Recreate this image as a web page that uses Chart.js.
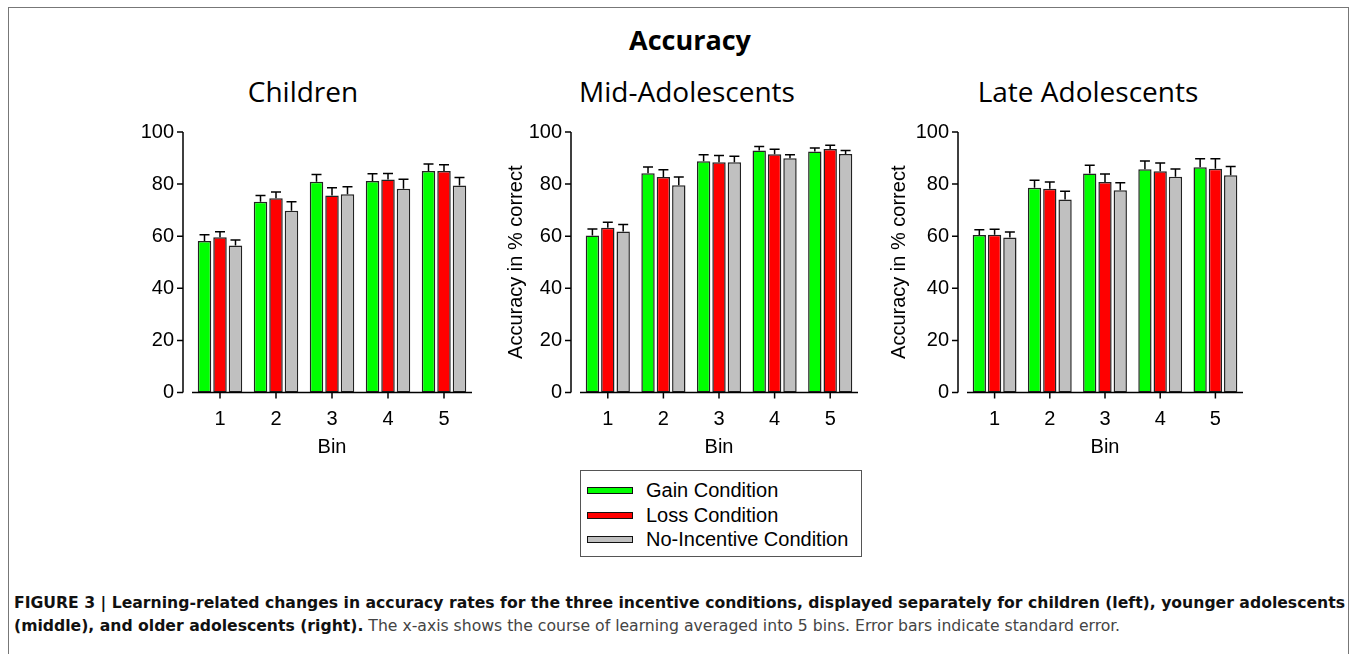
<!DOCTYPE html>
<html><head><meta charset="utf-8">
<script src="https://cdn.jsdelivr.net/npm/chart.js@4.4.1/dist/chart.umd.min.js"></script>
<style>
body{margin:0;background:#fff;width:1357px;height:654px;overflow:hidden;position:relative;font-family:"Liberation Sans",Arial,sans-serif;}
.frame{position:absolute;left:8px;top:7px;width:1339px;height:700px;border:1.5px solid #777;}
.t{position:absolute;transform:translate(-50%,-50%);white-space:nowrap;color:#000;font-family:"Open Sans","Noto Sans",sans-serif;}
canvas{position:absolute;}
.legend{position:absolute;left:580px;top:470px;width:280px;height:85px;border:1px solid #555;background:#fff;}
.li{position:absolute;left:6px;height:24px;white-space:nowrap;font-size:20px;color:#000;}
.sw{position:absolute;left:0;top:9px;width:44px;height:5px;border:1.5px solid #111;}
.lt{position:absolute;left:59px;top:0;line-height:24px;}
.cap{position:absolute;left:14px;white-space:nowrap;font-family:"Liberation Sans Narrow","DejaVu Sans Condensed","Liberation Sans",sans-serif;font-size:16px;line-height:20px;color:#444;transform-origin:0 50%;}
.cap b{color:#111;}
</style></head>
<body>
<div class="frame"></div>
<div class="t" style="left:690px;top:39px;font-size:27px;font-weight:700;">Accuracy</div>
<div class="t" style="left:303px;top:91px;font-size:28px;">Children</div>
<div class="t" style="left:687px;top:91px;font-size:28px;">Mid-Adolescents</div>
<div class="t" style="left:1088px;top:91px;font-size:28px;">Late Adolescents</div>
<canvas id="c1" width="380" height="358" style="left:100px;top:102px;"></canvas>
<canvas id="c2" width="390" height="358" style="left:480px;top:102px;"></canvas>
<canvas id="c3" width="390" height="358" style="left:860px;top:102px;"></canvas>
<div class="legend" id="legend"></div>
<div class="cap" id="cap1" style="top:593px;"><b>FIGURE 3 | Learning-related changes in accuracy rates for the three incentive conditions, displayed separately for children (left), younger adolescents</b></div>
<div class="cap" id="cap2" style="top:616px;"><b>(middle), and older adolescents (right).</b> The x-axis shows the course of learning averaged into 5 bins. Error bars indicate standard error.</div>
<script>
// ---- data ----
const bins = ['1', '2', '3', '4', '5'];
const seriesLabels = ['Gain Condition', 'Loss Condition', 'No-Incentive Condition'];
const seriesColors = ['#00ff00', '#ff0000', '#c0c0c0'];
const yTicks = [0, 20, 40, 60, 80, 100];

const childrenGain = [58.2, 73.2, 80.9, 81.2, 85.0];
const childrenLoss = [59.6, 74.6, 75.6, 81.8, 85.0];
const childrenNone = [56.4, 69.8, 76.1, 78.2, 79.5];
const childrenGainSE = [2.4, 2.4, 2.8, 2.8, 2.7];
const childrenLossSE = [2.1, 2.4, 3.0, 2.3, 2.4];
const childrenNoneSE = [2.1, 3.4, 2.9, 3.7, 3.0];

const midGain = [60.3, 84.2, 88.8, 92.9, 92.5];
const midLoss = [63.2, 82.7, 88.4, 91.5, 93.5];
const midNone = [61.8, 79.6, 88.4, 89.9, 91.6];
const midGainSE = [2.5, 2.4, 2.5, 1.5, 1.4];
const midLossSE = [2.2, 2.8, 2.6, 1.9, 1.4];
const midNoneSE = [2.7, 3.1, 2.3, 1.4, 1.3];

const lateGain = [60.5, 78.6, 84.1, 85.7, 86.5];
const lateLoss = [60.6, 78.2, 80.8, 84.9, 85.9];
const lateNone = [59.5, 74.1, 77.6, 82.8, 83.4];
const lateGainSE = [2.0, 2.9, 3.1, 3.2, 3.2];
const lateLossSE = [2.1, 2.6, 3.1, 3.2, 3.8];
const lateNoneSE = [2.1, 3.2, 2.9, 3.0, 3.4];

// ---- drawing ----
const FONT = {family: '"Liberation Sans", Arial, sans-serif', size: 20};

const axesAndErrors = {
  id: 'axesAndErrors',
  afterDatasetsDraw(chart) {
    const ctx = chart.ctx, x = chart.scales.x, y = chart.scales.y, ca = chart.chartArea;
    ctx.save();
    ctx.strokeStyle = '#000';
    ctx.lineWidth = 1.5;
    chart.data.datasets.forEach((ds, di) => {
      const meta = chart.getDatasetMeta(di);
      meta.data.forEach((bar, i) => {
        const top = y.getPixelForValue(ds.data[i] + ds.errors[i]);
        ctx.beginPath();
        ctx.moveTo(bar.x, bar.y);
        ctx.lineTo(bar.x, top);
        ctx.moveTo(bar.x - 5, top);
        ctx.lineTo(bar.x + 5, top);
        ctx.stroke();
      });
    });
    const ax = ca.left - 9;
    ctx.beginPath();
    ctx.moveTo(ax, y.getPixelForValue(yTicks[yTicks.length - 1]));
    ctx.lineTo(ax, y.getPixelForValue(0));
    yTicks.forEach(v => {
      const py = y.getPixelForValue(v);
      ctx.moveTo(ax - 6, py);
      ctx.lineTo(ax, py);
    });
    ctx.stroke();
    const y0 = y.getPixelForValue(0);
    ctx.beginPath();
    ctx.moveTo(ca.left, y0);
    ctx.lineTo(ca.right, y0);
    bins.forEach((b, i) => {
      const px = x.getPixelForValue(i);
      ctx.moveTo(px, y0);
      ctx.lineTo(px, y0 + 6);
    });
    ctx.stroke();
    ctx.restore();
  }
};

function makePanel(id, series, errs, cfg) {
  new Chart(document.getElementById(id), {
    type: 'bar',
    data: {
      labels: bins,
      datasets: series.map((s, k) => ({
        label: seriesLabels[k],
        data: s,
        errors: errs[k],
        backgroundColor: seriesColors[k],
        borderColor: '#222',
        borderWidth: 1.5,
        borderSkipped: false,
        categoryPercentage: 0.83,
        barPercentage: 0.87
      }))
    },
    options: {
      responsive: false,
      animation: false,
      events: [],
      layout: {padding: {top: 10, right: cfg.right, left: 0, bottom: 0}},
      plugins: {legend: {display: false}, tooltip: {enabled: false}},
      scales: {
        x: {
          grid: {display: false, drawTicks: false},
          border: {display: false},
          ticks: {color: '#000', font: FONT, padding: 15, maxRotation: 0},
          title: {display: true, text: 'Bin', color: '#000', font: FONT, padding: {top: 0, bottom: 1}},
          afterFit(s) { s.height = 67.5; }
        },
        y: {
          min: 0, max: 100,
          grid: {display: false, drawTicks: false},
          border: {display: false},
          ticks: {stepSize: 20, color: '#000', font: FONT, padding: 18},
          title: {display: cfg.ytitle, text: 'Accuracy in % correct', color: '#000', font: FONT,
                  padding: {top: cfg.tpad, bottom: 0}},
          afterFit(s) { s.width = cfg.yw; }
        }
      }
    },
    plugins: [axesAndErrors]
  });
}

makePanel('c1', [childrenGain, childrenLoss, childrenNone], [childrenGainSE, childrenLossSE, childrenNoneSE],
  {right: 8, yw: 92, ytitle: false, tpad: 0});
makePanel('c2', [midGain, midLoss, midNone], [midGainSE, midLossSE, midNoneSE],
  {right: 12, yw: 100, ytitle: true, tpad: 24});
makePanel('c3', [lateGain, lateLoss, lateNone], [lateGainSE, lateLossSE, lateNoneSE],
  {right: 7, yw: 107, ytitle: true, tpad: 27});

const lg = document.getElementById('legend');
seriesLabels.forEach((lab, k) => {
  const d = document.createElement('div');
  d.className = 'li';
  d.style.top = (7 + k * 24.5) + 'px';
  d.innerHTML = '<div class="sw" style="background:' + seriesColors[k] + '"></div><div class="lt"></div>';
  d.querySelector('.lt').textContent = lab;
  lg.appendChild(d);
});

const c1 = document.getElementById('cap1'), c2 = document.getElementById('cap2');
const sc = 1331 / c1.getBoundingClientRect().width;
c1.style.transform = 'scaleX(' + sc + ')';
c2.style.transform = 'scaleX(' + sc + ')';
</script>
</body></html>
